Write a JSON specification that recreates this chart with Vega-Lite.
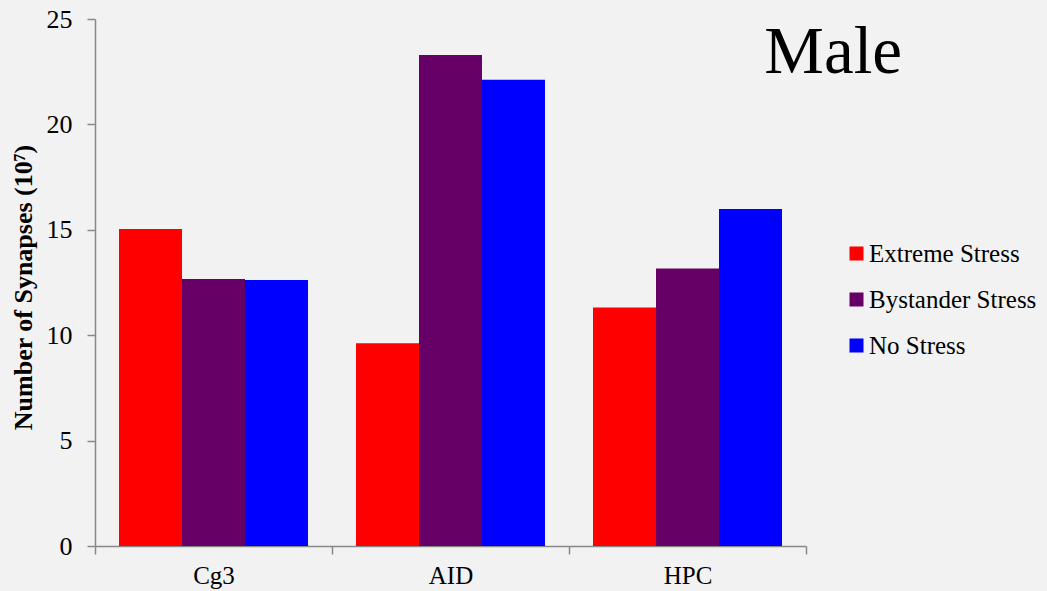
{
  "$schema": "https://vega.github.io/schema/vega-lite/v6.json",
  "width": 711,
  "height": 527,
  "autosize": {"type": "none"},
  "padding": {"left": 95, "top": 19, "right": 241, "bottom": 45},
  "background": "#f2f2f2",
  "config": {
    "view": {"stroke": null},
    "font": "Liberation Serif"
  },
  "title": {
    "text": "Male",
    "anchor": "end",
    "frame": "group",
    "orient": "none",
    "offset": 0,
    "baseline": "alphabetic",
    "dx": 807,
    "dy": 54,
    "fontSize": 67,
    "fontWeight": "normal",
    "font": "Liberation Serif",
    "color": "#000000"
  },
  "data": {
    "values": [
      {"region": "Cg3", "group": "Extreme Stress", "synapses": 15.04},
      {"region": "Cg3", "group": "Bystander Stress", "synapses": 12.67},
      {"region": "Cg3", "group": "No Stress", "synapses": 12.62},
      {"region": "AID", "group": "Extreme Stress", "synapses": 9.62},
      {"region": "AID", "group": "Bystander Stress", "synapses": 23.29},
      {"region": "AID", "group": "No Stress", "synapses": 22.12},
      {"region": "HPC", "group": "Extreme Stress", "synapses": 11.31},
      {"region": "HPC", "group": "Bystander Stress", "synapses": 13.17},
      {"region": "HPC", "group": "No Stress", "synapses": 15.99}
    ]
  },
  "mark": {"type": "bar"},
  "encoding": {
    "x": {
      "field": "region",
      "type": "nominal",
      "sort": ["Cg3", "AID", "HPC"],
      "scale": {"paddingInner": 0, "paddingOuter": 0},
      "axis": {
        "title": null,
        "labelAngle": 0,
        "labelFontSize": 25,
        "labelColor": "#000000",
        "labelPadding": 9,
        "tickBand": "extent",
        "tickSize": 8,
        "tickColor": "#888888",
        "domainColor": "#888888",
        "domainWidth": 1.5,
        "tickWidth": 1.5
      }
    },
    "xOffset": {
      "field": "group",
      "type": "nominal",
      "sort": ["Extreme Stress", "Bystander Stress", "No Stress"],
      "scale": {"paddingInner": 0, "paddingOuter": 0.381}
    },
    "y": {
      "field": "synapses",
      "type": "quantitative",
      "scale": {"domain": [0, 25], "nice": false},
      "axis": {
        "title": "Number of Synapses (10⁷)",
        "titleFontSize": 26,
        "titleFontWeight": "bold",
        "titleColor": "#000000",
        "titleX": -72,
        "titleY": 268,
        "titleAlign": "center",
        "titleBaseline": "middle",
        "titleAngle": -90,
        "values": [0, 5, 10, 15, 20, 25],
        "grid": false,
        "labelFontSize": 26,
        "labelColor": "#000000",
        "labelPadding": 15,
        "tickSize": 8,
        "tickColor": "#888888",
        "domainColor": "#888888",
        "domainWidth": 1.5,
        "tickWidth": 1.5
      }
    },
    "color": {
      "field": "group",
      "type": "nominal",
      "sort": ["Extreme Stress", "Bystander Stress", "No Stress"],
      "scale": {
        "domain": ["Extreme Stress", "Bystander Stress", "No Stress"],
        "range": ["#ff0000", "#660066", "#0000ff"]
      },
      "legend": {
        "title": null,
        "orient": "none",
        "legendX": 749,
        "legendY": 222,
        "symbolType": "square",
        "symbolSize": 196,
        "symbolStrokeWidth": 0,
        "labelFontSize": 25,
        "labelLimit": 0,
        "labelColor": "#000000",
        "labelOffset": 0,
        "rowPadding": 20
      }
    }
  }
}
